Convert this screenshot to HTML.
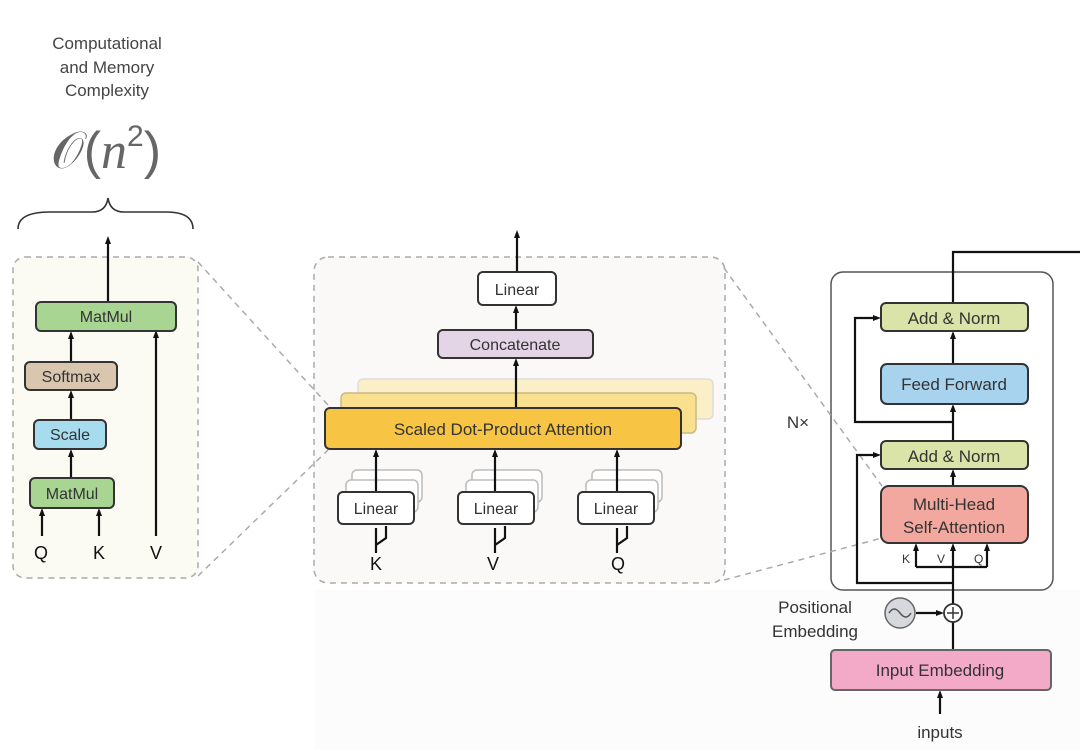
<!DOCTYPE html>
<html><head><meta charset="utf-8"><style>
html,body{margin:0;padding:0;background:#fff;}
svg{display:block;}
text{font-family:"Liberation Sans",sans-serif;}
</style></head><body>
<svg width="1080" height="750" viewBox="0 0 1080 750" xmlns="http://www.w3.org/2000/svg">
<defs>
<marker id="a" markerWidth="8" markerHeight="8" refX="4" refY="4" orient="auto" markerUnits="userSpaceOnUse"><path d="M0,1 L8,4 L0,7 Z" fill="#111"/></marker>
</defs>
<rect x="315" y="590" width="765" height="160" fill="#fcfcfc"/>
<g fill="#444" font-size="17" text-anchor="middle">
<text x="107" y="49">Computational</text>
<text x="107" y="73">and Memory</text>
<text x="107" y="96">Complexity</text>
</g>
<text x="106" y="168" font-family="DejaVu Serif,Liberation Serif,serif" font-size="52" fill="#666" text-anchor="middle">𝒪(<tspan font-style="italic" font-family="Liberation Serif,serif">n</tspan><tspan font-size="30" dy="-22">2</tspan><tspan dy="22">)</tspan></text>
<path d="M18,229 Q18,212 50,212 L92,212 Q106,212 108,198 Q110,212 124,212 L166,212 Q193,212 193,229" fill="none" stroke="#333" stroke-width="1.6"/>

<rect x="13" y="257" width="185" height="321" rx="12" fill="#fbfaf3" stroke="#aaa" stroke-width="1.5" stroke-dasharray="6,5"/>
<g stroke="#111" stroke-width="2.2" fill="none">
<line x1="108" y1="302" x2="108" y2="240" marker-end="url(#a)"/>
<line x1="71" y1="362" x2="71" y2="335" marker-end="url(#a)"/>
<line x1="71" y1="420" x2="71" y2="394" marker-end="url(#a)"/>
<line x1="71" y1="478" x2="71" y2="453" marker-end="url(#a)"/>
<line x1="42" y1="536" x2="42" y2="512" marker-end="url(#a)"/>
<line x1="99" y1="536" x2="99" y2="512" marker-end="url(#a)"/>
<line x1="156" y1="536" x2="156" y2="334" marker-end="url(#a)"/>
</g>
<g stroke="#333" stroke-width="2">
<rect x="36" y="302" width="140" height="29" rx="5" fill="#a9d592"/>
<rect x="25" y="362" width="92" height="28" rx="5" fill="#d9c6af"/>
<rect x="34" y="420" width="72" height="29" rx="5" fill="#a6dcee"/>
<rect x="30" y="478" width="84" height="30" rx="5" fill="#a9d592"/>
</g>
<g font-size="16" fill="#333" text-anchor="middle">
<text x="106" y="322">MatMul</text>
<text x="71" y="382">Softmax</text>
<text x="70" y="440">Scale</text>
<text x="72" y="499">MatMul</text>
</g>
<g font-size="18" fill="#111" text-anchor="middle">
<text x="41" y="559">Q</text><text x="99" y="559">K</text><text x="156" y="559">V</text>
</g>

<rect x="314" y="257" width="411" height="326" rx="14" fill="#faf9f8" stroke="#aaa" stroke-width="1.5" stroke-dasharray="6,5"/>
<g stroke="#aaa" stroke-width="1.5" stroke-dasharray="6,5" fill="none">
<line x1="198" y1="262" x2="328" y2="405"/>
<line x1="198" y1="576" x2="328" y2="450"/>
</g>
<rect x="358" y="379" width="355" height="40" rx="5" fill="#fbefc7" stroke="#ddd" stroke-width="1.5"/>
<rect x="341" y="393" width="355" height="40" rx="5" fill="#f8e08f" stroke="#c9b985" stroke-width="1.5"/>
<g stroke="#bbb" stroke-width="1.5" fill="#fff">
<rect x="352" y="470" width="70" height="32" rx="5"/>
<rect x="346" y="480" width="72" height="32" rx="5"/>
<rect x="472" y="470" width="70" height="32" rx="5"/>
<rect x="466" y="480" width="72" height="32" rx="5"/>
<rect x="592" y="470" width="70" height="32" rx="5"/>
<rect x="586" y="480" width="72" height="32" rx="5"/>
</g>
<g stroke="#111" stroke-width="2.2" fill="none">
<line x1="517" y1="272" x2="517" y2="234" marker-end="url(#a)"/>
<line x1="516" y1="330" x2="516" y2="309" marker-end="url(#a)"/>
<line x1="516" y1="408" x2="516" y2="362" marker-end="url(#a)"/>
<line x1="376" y1="492" x2="376" y2="453" marker-end="url(#a)"/>
<line x1="495" y1="492" x2="495" y2="453" marker-end="url(#a)"/>
<line x1="617" y1="492" x2="617" y2="453" marker-end="url(#a)"/>
<path d="M376,553 L376,528 M376,545 L386,538 L386,526" />
<path d="M495,553 L495,528 M495,545 L505,538 L505,526" />
<path d="M617,553 L617,528 M617,545 L627,538 L627,526" />
</g>
<g stroke="#333" stroke-width="2">
<rect x="478" y="272" width="78" height="33" rx="5" fill="#fff"/>
<rect x="438" y="330" width="155" height="28" rx="5" fill="#e3d4e6"/>
<rect x="325" y="408" width="356" height="41" rx="5" fill="#f7c443"/>
<rect x="338" y="492" width="76" height="32" rx="5" fill="#fff"/>
<rect x="458" y="492" width="76" height="32" rx="5" fill="#fff"/>
<rect x="578" y="492" width="76" height="32" rx="5" fill="#fff"/>
</g>
<g font-size="16" fill="#333" text-anchor="middle">
<text x="517" y="295">Linear</text>
<text x="515" y="350">Concatenate</text>
<text x="503" y="435" font-size="17">Scaled Dot-Product Attention</text>
<text x="376" y="514">Linear</text>
<text x="496" y="514">Linear</text>
<text x="616" y="514">Linear</text>
</g>
<g font-size="18" fill="#111" text-anchor="middle">
<text x="376" y="570">K</text><text x="493" y="570">V</text><text x="618" y="570">Q</text>
</g>

<rect x="831" y="272" width="222" height="318" rx="12" fill="#fff" stroke="#555" stroke-width="1.5"/>
<g stroke="#aaa" stroke-width="1.5" stroke-dasharray="6,5" fill="none">
<line x1="724" y1="268" x2="882" y2="486"/>
<line x1="724" y1="580" x2="882" y2="538"/>
</g>
<g stroke="#111" stroke-width="2.2" fill="none">
<polyline points="953,303 953,252 1080,252"/>
<line x1="953" y1="364" x2="953" y2="335" marker-end="url(#a)"/>
<line x1="953" y1="441" x2="953" y2="408" marker-end="url(#a)"/>
<line x1="953" y1="486" x2="953" y2="473" marker-end="url(#a)"/>
<polyline points="953,422 855,422 855,318 877,318" marker-end="url(#a)"/>
<polyline points="953,583 857,583 857,455 877,455" marker-end="url(#a)"/>
<line x1="953" y1="650" x2="953" y2="547" marker-end="url(#a)"/>
<polyline points="916,567 987,567"/>
<line x1="916" y1="567" x2="916" y2="547" marker-end="url(#a)"/>
<line x1="987" y1="567" x2="987" y2="547" marker-end="url(#a)"/>
<line x1="916" y1="613" x2="940" y2="613" marker-end="url(#a)"/>
<line x1="940" y1="714" x2="940" y2="694" marker-end="url(#a)"/>
</g>
<g stroke="#333" stroke-width="2">
<rect x="881" y="303" width="147" height="28" rx="5" fill="#dae3a8"/>
<rect x="881" y="364" width="147" height="40" rx="6" fill="#a8d3ee"/>
<rect x="881" y="441" width="147" height="28" rx="5" fill="#dae3a8"/>
<rect x="881" y="486" width="147" height="57" rx="8" fill="#f2a89f"/>
<rect x="831" y="650" width="220" height="40" rx="4" fill="#f3aac9" stroke="#666"/>
</g>
<circle cx="900" cy="613" r="15" fill="#d5d8dc" stroke="#666" stroke-width="1.5"/>
<path d="M889,613 Q894,605 900,613 Q906,621 911,613" fill="none" stroke="#555" stroke-width="1.5"/>
<circle cx="953" cy="613" r="9" fill="#fff" stroke="#333" stroke-width="1.8"/>
<path d="M947,613 H959 M953,607 V619" stroke="#333" stroke-width="1.5"/>
<g font-size="17" fill="#333" text-anchor="middle">
<text x="954" y="324">Add &amp; Norm</text>
<text x="954" y="390">Feed Forward</text>
<text x="954" y="462">Add &amp; Norm</text>
<text x="954" y="510">Multi-Head</text>
<text x="954" y="533">Self-Attention</text>
<text x="940" y="676">Input Embedding</text>
<text x="815" y="613">Positional</text>
<text x="815" y="637">Embedding</text>
<text x="940" y="738">inputs</text>
<text x="798" y="428">N×</text>
</g>
<g font-size="12" fill="#333"><text x="902" y="563">K</text><text x="937" y="563">V</text><text x="974" y="563">Q</text></g>
</svg>
</body></html>
